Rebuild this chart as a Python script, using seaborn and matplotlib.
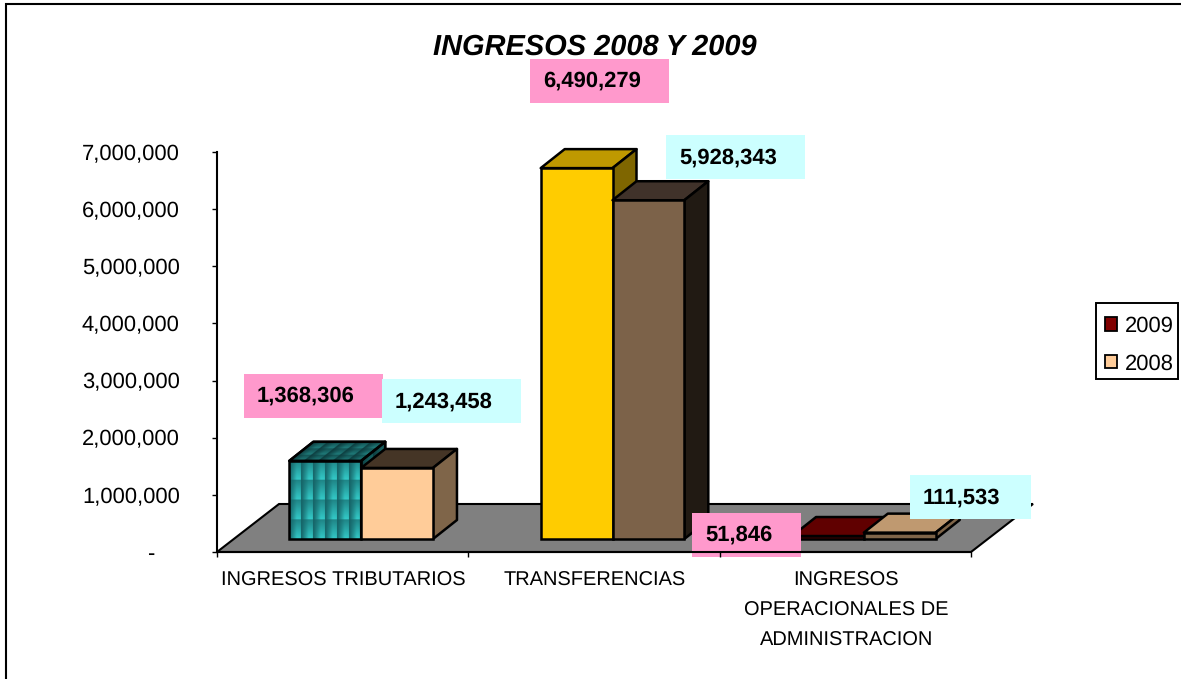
import numpy as np
import pandas as pd
import seaborn as sns
import matplotlib
matplotlib.use("Agg")
import matplotlib.pyplot as plt
from matplotlib.patches import Polygon, Rectangle, Patch
from matplotlib.lines import Line2D
from matplotlib.transforms import Affine2D, IdentityTransform

# ---------- data ----------
categories = ["INGRESOS TRIBUTARIOS", "TRANSFERENCIAS",
              "INGRESOS\nOPERACIONALES DE\nADMINISTRACION"]
series_names = ["2009", "2008"]
values_2009 = [1368306, 6490279, 51846]
values_2008 = [1243458, 5928343, 111533]
y_ticks = [0, 1000000, 2000000, 3000000, 4000000, 5000000, 6000000, 7000000]
title_text = "INGRESOS 2008 Y 2009"

# ---------- styling ----------
W, H = 1181, 679
FONT = "Liberation Sans"
front_2009 = ["#33CCCC", "#FFCC00", "#800000"]
top_2009 = ["#33CCCC", "#BF9900", "#600000"]
side_2009 = ["#33CCCC", "#7F6600", "#400000"]
front_2008 = ["#FFCC99", "#7C6249", "#7F6549"]
top_2008 = ["#453526", "#40322A", "#BF9970"]
side_2008 = ["#7F6549", "#211A13", "#7F6549"]
PINK, CYAN = "#FF99CC", "#CCFFFF"
FLOOR = "#808080"
SHIFT = np.array([18.5, 13.0])   # front of the bars above the axis line
BAR_DEPTH = np.array([24.0, 19.0])
FLOOR_DEPTH = np.array([62.0, 48.0])
pink_boxes = [(244, 374, 139), (530, 59, 139), (692, 513, 109)]
cyan_boxes = [(382, 379, 139), (666, 135, 139), (910, 475, 121)]
BOX_H = 44
LW = 1.8

sns.set_theme(style="white")
plt.rcParams["font.family"] = [FONT, "DejaVu Sans"]
plt.rcParams["text.color"] = "black"
plt.rcParams["text.hinting"] = "no_hinting"
plt.rcParams["text.hinting_factor"] = 1

fig = plt.figure(figsize=(W / 100, H / 100), dpi=100, facecolor="white")
ax = fig.add_axes([217 / W, (H - 552) / H, 754 / W, 400 / H])

df = pd.DataFrame({
    "categoria": categories * 2,
    "serie": [series_names[0]] * 3 + [series_names[1]] * 3,
    "valor": values_2009 + values_2008,
})
sns.barplot(data=df, x="categoria", y="valor", hue="serie", hue_order=series_names,
            order=categories, width=0.5714, gap=0, dodge=True, legend=False,
            errorbar=None, ax=ax, saturation=1)
bars = sorted(ax.patches, key=lambda p: p.get_x())
ax.set_xlim(-0.5, 2.5)
ax.set_ylim(0, 7000000)
ax.set_xlabel("")
ax.set_ylabel("")
ax.set_facecolor("none")

px = Affine2D().scale(1, -1).translate(0, H)   # reference pixels -> display
ident = IdentityTransform()


def disp(x, v):
    return np.asarray(ax.transData.transform((x, v)), dtype=float)


# floor
a, b = disp(-0.5, 0), disp(2.5, 0)
ax.add_patch(Polygon([a, b, b + FLOOR_DEPTH, a + FLOOR_DEPTH], closed=True, transform=ident,
                     facecolor=FLOOR, edgecolor="black", linewidth=1.5, zorder=1, clip_on=False))


def texture(nx, ny, shade=1.0, res=14):
    """Tile image of the teal fill: dark at left/top, bright at right/bottom."""
    u = np.linspace(0, 1, res)
    v = np.linspace(0, 1, res)
    uu, vv = np.meshgrid(u, v)   # v=0 is the bottom row with origin lower
    t = np.clip(0.10 + 0.90 * np.minimum(uu * 1.5, 1) * (0.35 + 0.65 * (1 - vv)), 0, 1)
    dark = np.array([0x12, 0x58, 0x5C]) / 255
    lite = np.array([0x33, 0xC8, 0xC6]) / 255
    tile = (dark + (lite - dark) * t[..., None]) * shade
    return np.tile(tile, (ny, nx, 1))


def face_image(origin, ex, ey, nx, ny, z, outline, shade=1.0):
    m = Affine2D.from_values(ex[0], ex[1], ey[0], ey[1], origin[0], origin[1])
    im = ax.imshow(texture(nx, ny, shade), extent=(0, 1, 0, 1), origin="lower", aspect="auto",
                   interpolation="bilinear", transform=m, zorder=z)
    clip = Polygon(outline, closed=True, transform=ident)
    im.set_clip_path(clip)


tops = [c for pair in zip(top_2009, top_2008) for c in pair]
sides = [c for pair in zip(side_2009, side_2008) for c in pair]
fronts = [c for pair in zip(front_2009, front_2008) for c in pair]

front_tf = ax.transData + Affine2D().translate(*SHIFT)
for i, bar in enumerate(bars):
    z = 3 + i
    x0, x1, v = bar.get_x(), bar.get_x() + bar.get_width(), bar.get_height()
    bl, br = disp(x0, 0) + SHIFT, disp(x1, 0) + SHIFT
    tl, tr = disp(x0, v) + SHIFT, disp(x1, v) + SHIFT
    edge = dict(edgecolor="black", linewidth=LW, transform=ident, clip_on=False, joinstyle="round")
    top_pts = [tl, tr, tr + BAR_DEPTH, tl + BAR_DEPTH]
    side_pts = [br, tr, tr + BAR_DEPTH, br + BAR_DEPTH]
    ax.add_patch(Polygon(top_pts, closed=True, facecolor=tops[i], zorder=z, **edge))
    ax.add_patch(Polygon(side_pts, closed=True, facecolor=sides[i], zorder=z, **edge))
    bar.set_transform(front_tf)
    bar.set_clip_on(False)
    bar.set_facecolor(fronts[i])
    bar.set_edgecolor("black")
    bar.set_linewidth(LW)
    bar.set_zorder(z + 0.5)
    if i == 0:
        face_image(tl, tr - tl, BAR_DEPTH, 5, 3, z + 0.1, top_pts, shade=0.62)
        face_image(br, BAR_DEPTH, tr - br, 2, 4, z + 0.1, side_pts, shade=0.62)
        face_image(bl, br - bl, tl - bl, 6, 4, z + 0.2, [bl, br, tr, tl])
        bar.set_facecolor("none")
        for pts in (top_pts, side_pts):
            ax.add_patch(Polygon(pts, closed=True, facecolor="none", zorder=z + 0.3, **edge))

ax.set_xlim(-0.5, 2.5)
ax.set_ylim(0, 7000000)

# axes
sns.despine(ax=ax, top=True, right=True)
for s in ("left", "bottom"):
    ax.spines[s].set_color("black")
    ax.spines[s].set_linewidth(1.5)
    ax.spines[s].set_zorder(50)
ax.xaxis.set_zorder(50)
ax.yaxis.set_zorder(50)
ax.set_yticks(y_ticks)
ax.set_yticklabels([f"{t:,}" if t else "-" + " " * 4 for t in y_ticks], fontsize=15.8, color="black")
ax.tick_params(axis="y", left=True, length=3.6, width=1.0, pad=23.2, color="black")
ax.set_xticks([-0.5, 0.5, 1.5, 2.5])
ax.set_xticklabels([])
ax.tick_params(axis="x", bottom=True, length=3.6, width=1.0, color="black")
for i, c in enumerate(categories):
    ax.annotate(c, xy=(i, 0), xycoords="data", xytext=(1, -19), textcoords="offset pixels",
                ha="center", va="top", fontsize=14.5, linespacing=1.8, color="black",
                annotation_clip=False)

# value labels
for (x, y, w), v in zip(pink_boxes, values_2009):
    ax.add_patch(Rectangle((x, y), w, BOX_H, transform=px, facecolor=PINK, edgecolor="none", zorder=30, clip_on=False))
    ax.text(x + 13, y + BOX_H / 2 - 2, f"{v:,}", transform=px, ha="left", va="center_baseline",
            fontsize=15.9, fontweight="bold", color="black", zorder=31, clip_on=False)
for (x, y, w), v in zip(cyan_boxes, values_2008):
    ax.add_patch(Rectangle((x, y), w, BOX_H, transform=px, facecolor=CYAN, edgecolor="none", zorder=30, clip_on=False))
    ax.text(x + 13, y + BOX_H / 2 - 1, f"{v:,}", transform=px, ha="left", va="center_baseline",
            fontsize=15.9, fontweight="bold", color="black", zorder=31, clip_on=False)

# title
fig.text(595 / W, (H - 47) / H, title_text, ha="center", va="center", fontsize=21.1,
         fontweight="bold", fontstyle="italic", color="black")

# legend: frame drawn apart so its margins can differ from the key margins
fig.add_artist(Rectangle((1096, 303), 82, 76, transform=px, facecolor="white",
                         edgecolor="black", linewidth=1.4))
handles = [Patch(facecolor="#800000", edgecolor="black", linewidth=1.3, label="2009"),
           Patch(facecolor="#FFCC99", edgecolor="black", linewidth=1.3, label="2008")]
leg = fig.legend(handles=handles, loc="upper left",
                 bbox_to_anchor=(1104.5 / W, (H - 316) / H), bbox_transform=fig.transFigure,
                 fontsize=16, frameon=False, labelcolor="black",
                 handlelength=0.54, handleheight=0.54, handletextpad=0.36, labelspacing=0.76,
                 borderpad=0, borderaxespad=0)

# outer chart frame (left and top edges; others fall outside the picture)
fig.add_artist(Line2D([6 / W, 6 / W, 1], [0, (H - 3.5) / H, (H - 3.5) / H], color="black", linewidth=1.5,
                      transform=fig.transFigure, solid_joinstyle="miter"))

fig.savefig("out.png", dpi=100)
